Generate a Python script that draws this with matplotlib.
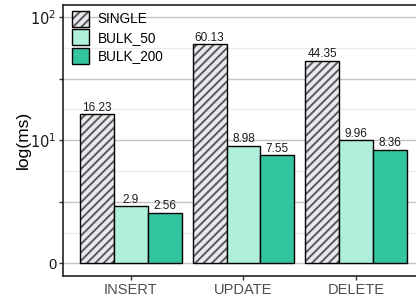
import matplotlib
matplotlib.use("Agg")
import matplotlib.pyplot as plt
import numpy as np
from matplotlib.patches import Patch
from matplotlib.legend_handler import HandlerTuple

categories = ["INSERT", "UPDATE", "DELETE"]
series_names = ["SINGLE", "BULK_50", "BULK_200"]
single = [16.23, 60.13, 44.35]
bulk_50 = [2.9, 8.98, 9.96]
bulk_200 = [2.56, 7.55, 8.36]

plt.rcParams["font.family"] = ["Liberation Sans", "DejaVu Sans"]
plt.rcParams["hatch.linewidth"] = 1.4

HATCH_FILL = "#e6e9ee"
HATCH_LINE = "#5a5a5a"
C50 = "#b0efdb"
C200 = "#33c5a0"

fig = plt.figure(figsize=(4.16, 2.98), dpi=100)
ax = fig.add_axes([0.152, 0.0748, 0.8665, 0.9094])

x = np.arange(1, len(categories) + 1)
w = 0.3
series = [single, bulk_50, bulk_200]
offsets = [-w, 0, w]

for vals, off, name in zip(series, offsets, series_names):
    vals = np.asarray(vals)
    if name == "SINGLE":
        ax.bar(x + off, vals - 1, bottom=1, width=w, color=HATCH_FILL,
               edgecolor=HATCH_LINE, hatch="////", linewidth=0, zorder=2)
        ax.bar(x + off, vals - 1, bottom=1, width=w, fill=False,
               edgecolor="black", linewidth=1.0, zorder=3)
    else:
        ax.bar(x + off, vals - 1, bottom=1, width=w,
               color=C50 if name == "BULK_50" else C200,
               edgecolor="black", linewidth=1.0, zorder=3)
    for xi, v in zip(x + off, vals):
        ax.annotate(f"{v:g}", (xi, v), xytext=(0, 0.5), textcoords="offset points",
                    ha="center", va="bottom", fontsize=8.5, color="#1a1a1a")

ax.set_yscale("log")
ax.set_ylim(10 ** -0.1, 10 ** 2.1)
ax.set_xlim(0.4, 3.6)

major = [1, 10 ** 0.5, 10, 10 ** 1.5, 100]
ax.set_yticks(major)
ax.set_yticklabels(["0", "", "$10^1$", "", "$10^2$"], fontsize=10.5, color="#1a1a1a")
ax.yaxis.set_minor_locator(matplotlib.ticker.FixedLocator(
    [10 ** 0.25, 10 ** 0.75, 10 ** 1.25, 10 ** 1.75]))
ax.yaxis.set_minor_formatter(matplotlib.ticker.NullFormatter())
ax.tick_params(axis="y", which="minor", length=0)
ax.tick_params(axis="both", which="major", length=3, width=1, color="#333333", pad=2)

ax.set_xticks(x)
ax.set_xticklabels(categories, fontsize=10.5, color="#4d4d4d")

ax.grid(axis="y", which="major", color="#c4c4c4", linewidth=1.0, zorder=0)
ax.grid(axis="y", which="minor", color="#ebebeb", linewidth=0.8, zorder=0)
ax.set_axisbelow(True)

for s in ["left", "bottom", "top", "right"]:
    ax.spines[s].set_linewidth(1.2)
    ax.spines[s].set_color("#222222")

ax.set_ylabel("log(ms)", fontsize=12.5)
ax.yaxis.set_label_coords(-0.09, 0.5)

handles = [
    (Patch(facecolor=HATCH_FILL, edgecolor=HATCH_LINE, hatch="////", linewidth=0),
     Patch(fill=False, edgecolor="black", linewidth=1.0)),
    Patch(facecolor=C50, edgecolor="black", linewidth=1.0),
    Patch(facecolor=C200, edgecolor="black", linewidth=1.0),
]
ax.legend(handles, series_names, loc="upper left", bbox_to_anchor=(0.023, 0.977),
          borderaxespad=0, borderpad=0, frameon=False, fontsize=9.8,
          handlelength=1.3, handleheight=1.4, labelspacing=0.2,
          handletextpad=0.6, handler_map={tuple: HandlerTuple(ndivide=1)})

fig.savefig("out.png", dpi=100)
